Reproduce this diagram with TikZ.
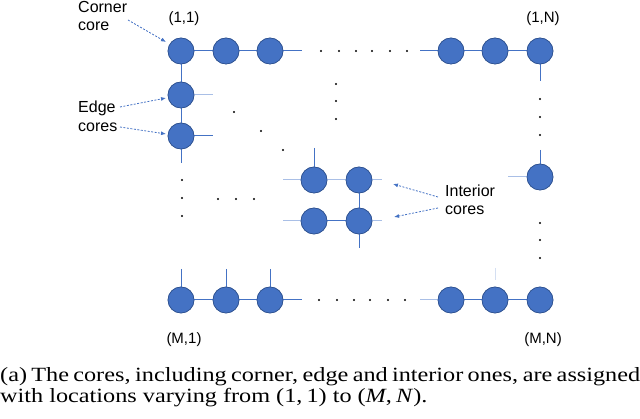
\documentclass[tikz,border=0pt]{standalone}
\usepackage{fontspec}
\usepackage{graphicx}
\setmainfont{Liberation Serif}
\newfontfamily\arialf{Liberation Sans}
\usetikzlibrary{arrows.meta}
\definecolor{coreblue}{HTML}{4472C4}
\definecolor{coreedge}{HTML}{2F528F}
\definecolor{linkblue}{HTML}{4472C4}
\definecolor{fainblue}{HTML}{A9BFE6}
\begin{document}
\begin{tikzpicture}[x=1pt,y=-1pt,
  core/.style={circle,fill=coreblue,draw=coreedge,line width=0.6pt,minimum size=26pt,inner sep=0pt},
  link/.style={draw=linkblue,line width=1pt},
  faint/.style={draw=fainblue,line width=1pt},
  pointer/.style={draw=linkblue,line width=0.8pt,dash pattern=on 2pt off 1.5pt,-{Latex[length=5pt,width=4pt]}},
  lbl/.style={font=\arialf\fontsize{16}{19}\selectfont,inner sep=0pt},
  coordlbl/.style={font=\arialf\fontsize{15}{18}\selectfont,inner sep=0pt},
  dotm/.style={circle,fill=black,inner sep=0pt,minimum size=2.2pt}]
\useasboundingbox (0,0) rectangle (640,419);
% cores
\node[core] (c11) at (181,51) {};
\node[core] (c12) at (226,51) {};
\node[core] (c13) at (270,51) {};
\node[core] (c1a) at (451,51) {};
\node[core] (c1b) at (495,51) {};
\node[core] (c1N) at (540,51) {};
\node[core] (e1) at (181,95) {};
\node[core] (e2) at (181,136) {};
\node[core] (cR) at (540,177) {};
\node[core] (i11) at (314,180) {};
\node[core] (i12) at (359,180) {};
\node[core] (i21) at (314,221) {};
\node[core] (i22) at (359,221) {};
\node[core] (cM1) at (181,300) {};
\node[core] (cM2) at (226,300) {};
\node[core] (cM3) at (270,300) {};
\node[core] (cMa) at (451,300) {};
\node[core] (cMb) at (495,300) {};
\node[core] (cMN) at (540,300) {};
% stub ends
\coordinate (t13) at (302,51);
\coordinate (t1a) at (420,51);
\coordinate (t1N) at (540,81);
\coordinate (tRu) at (540,150);
\coordinate (tRl) at (508,177);
\coordinate (te1) at (213,95);
\coordinate (te2) at (213,136);
\coordinate (te2d) at (181,163);
\coordinate (ti11u) at (314,148);
\coordinate (ti11l) at (283,180);
\coordinate (ti21l) at (283,221);
\coordinate (ti12r) at (382,180);
\coordinate (ti22r) at (382,221);
\coordinate (ti22d) at (359,248);
\coordinate (tM1) at (181,269);
\coordinate (tM2) at (226,269);
\coordinate (tM3) at (270,269);
\coordinate (tM3r) at (302,300);
\coordinate (tMa) at (420,300);
\coordinate (tMb) at (495,268);
\coordinate (tMb2) at (495,280);
% links
\draw[link] (c11) -- (c12) -- (c13) -- (t13);
\draw[link] (t1a) -- (c1a) -- (c1b) -- (c1N);
\draw[link] (c1N) -- (t1N);
\draw[link] (tRu) -- (cR);
\draw[faint] (tRl) -- (cR);
\draw[link] (c11) -- (e1) -- (e2) -- (te2d);
\draw[faint] (e1) -- (te1);
\draw[link] (e2) -- (te2);
\draw[link] (ti11u) -- (i11);
\draw[faint] (ti11l) -- (i11);
\draw[faint] (ti21l) -- (i21);
\draw[faint] (i11) -- (i12);
\draw[link] (i21) -- (i22);
\draw[link] (i12) -- (i22) -- (ti22d);
\draw[faint] (i12) -- (ti12r);
\draw[faint] (i22) -- (ti22r);
\draw[link] (tM1) -- (cM1);
\draw[link] (tM2) -- (cM2);
\draw[link] (tM3) -- (cM3);
\draw[link] (cM1) -- (cM2) -- (cM3) -- (tM3r);
\draw[faint] (tMa) -- (cMa);
\draw[link] (cMa) -- (cMb) -- (cMN);
\draw[draw=fainblue!50,line width=0.8pt] (tMb) -- (tMb2);
% redraw cores on top
\foreach \n in {c11,c12,c13,c1a,c1b,c1N,e1,e2,cR,i11,i12,i21,i22,cM1,cM2,cM3,cMa,cMb,cMN}
  \fill[coreblue,draw=coreedge,line width=0.6pt] (\n.center) circle (13);
% dots
\foreach \x [count=\k] in {321,339,356,372,390,407} \node[dotm] (dt\k) at (\x,51) {};
\foreach \x [count=\k] in {319,337,354,370,388,405} \node[dotm] (db\k) at (\x,300) {};
\foreach \y [count=\k] in {84,101,119} \node[dotm] (dm\k) at (336,\y) {};
\foreach \y [count=\k] in {99,117,135} \node[dotm] (dru\k) at (540,\y) {};
\foreach \y [count=\k] in {223,240,258} \node[dotm] (drl\k) at (540,\y) {};
\foreach \y [count=\k] in {180,198,216} \node[dotm] (dl\k) at (182,\y) {};
\foreach \x [count=\k] in {218,236,254} \node[dotm] (dh\k) at (\x,199) {};
\node[dotm] (dd1) at (234,112) {};
\node[dotm] (dd2) at (261,131) {};
\node[dotm] (dd3) at (283,150) {};
% labels
\node[coordlbl] (p11) at (184,19) {(1,1)};
\node[coordlbl] (p1N) at (543,19) {(1,N)};
\node[coordlbl] (pM1) at (184,340) {(M,1)};
\node[coordlbl] (pMN) at (543,340) {(M,N)};
\node[lbl,anchor=west] (lc1) at (78,7) {Corner};
\node[lbl,anchor=west] (lc2) at (78,26) {core};
\node[lbl,anchor=west] (le1) at (78,108) {Edge};
\node[lbl,anchor=west] (le2) at (78,127) {cores};
\node[lbl,anchor=west] (li1) at (445,191) {Interior};
\node[lbl,anchor=west] (li2) at (445,210) {cores};
% pointers
\coordinate (ac) at (128,20);
\coordinate (ae1) at (120,107);
\coordinate (ae2) at (120,127);
\coordinate (ai1) at (438,197);
\coordinate (ai2) at (438,208);
\coordinate (bc) at (166,42);
\coordinate (be1) at (166,98);
\coordinate (be2) at (166,134);
\coordinate (bi1) at (393,184);
\coordinate (bi2) at (394,217);
\draw[pointer] (ac) -- (bc);
\draw[pointer] (ae1) -- (be1);
\draw[pointer] (ae2) -- (be2);
\draw[pointer] (ai1) -- (bi1);
\draw[pointer] (ai2) -- (bi2);
% caption
\node[anchor=base west,inner sep=0pt] (cap) at (0,382)
 {\scalebox{1.2}[1]{\parbox[t]{533.3pt}{\fontsize{20.2}{21}\selectfont\spaceskip=0.25em plus 0.5em minus 0.2em
 (a) The cores, including corner, edge and interior ones, are assigned\linebreak with locations varying from (1,\,1) to (\textit{M},\,\textit{N}).}}};
\end{tikzpicture}
\end{document}
